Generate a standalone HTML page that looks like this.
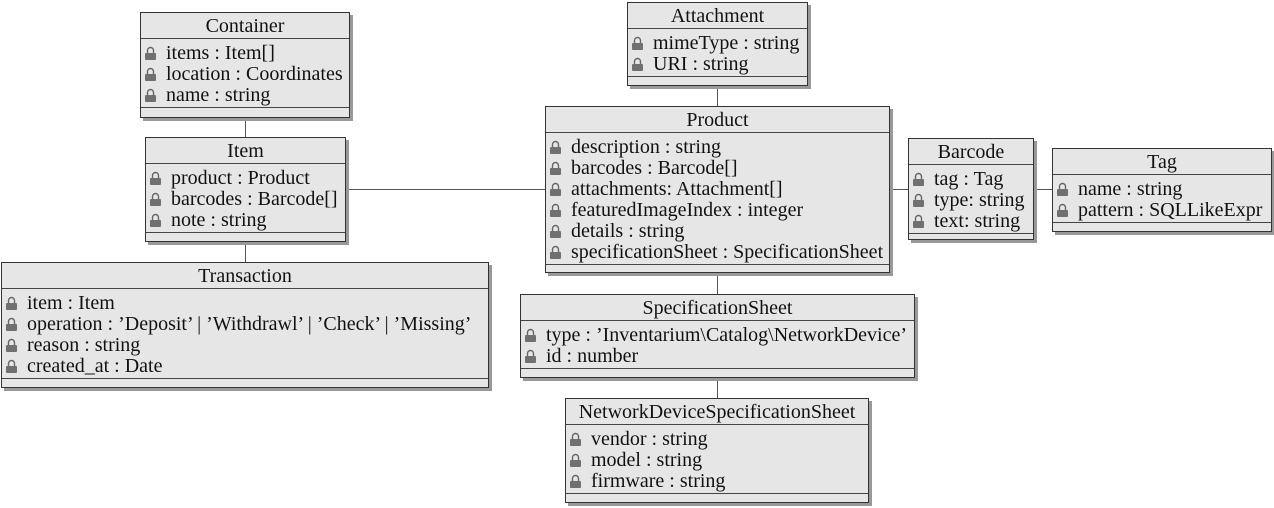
<!DOCTYPE html>
<html><head><meta charset="utf-8"><style>
body{margin:0;width:1274px;height:508px;background:#fff;position:relative;overflow:hidden;font-family:"Liberation Serif",serif;font-size:20px;color:#111}
.b{position:absolute;border:1px solid #333;background:#e6e6e6;box-shadow:3px 3px 0 #999;box-sizing:border-box}
.h{height:25px;line-height:26px;text-align:center;border-bottom:1px solid #444}
.a{padding:4px 0 1px}
.r{height:21px;line-height:21px;white-space:nowrap;padding-left:3px}
.r svg{vertical-align:-1px;margin-right:9px}
.f{border-top:1px solid #444}
.l{position:absolute;background:#555}
</style></head><body>
<svg width="0" height="0" style="position:absolute"><defs><g id="k"><path d="M3.5 7 V4.5 a3 3 0 0 1 6 0 V7" fill="none" stroke="#666" stroke-width="1.4"/><rect x="1" y="7" width="11" height="7" rx="1" fill="#707070"/></g></defs></svg>

<div class="l" style="left:245px;top:117px;width:1px;height:20px"></div>
<div class="l" style="left:245px;top:241px;width:1px;height:21px"></div>
<div class="l" style="left:345px;top:189px;width:200px;height:1px"></div>
<div class="l" style="left:717px;top:85px;width:1px;height:21px"></div>
<div class="l" style="left:889px;top:189px;width:19px;height:1px"></div>
<div class="l" style="left:1033px;top:189px;width:19px;height:1px"></div>
<div class="l" style="left:717px;top:272px;width:1px;height:22px"></div>
<div class="l" style="left:717px;top:377px;width:1px;height:21px"></div>

<div class="b" style="left:140px;top:12px;width:210px;height:106px"><div class="h">Container</div><div class="a">
<div class="r"><svg width="13" height="14"><use href="#k"/></svg>items : Item[]</div>
<div class="r"><svg width="13" height="14"><use href="#k"/></svg>location : Coordinates</div>
<div class="r"><svg width="13" height="14"><use href="#k"/></svg>name : string</div></div><div class="f"></div></div>

<div class="b" style="left:145px;top:137px;width:201px;height:105px"><div class="h">Item</div><div class="a">
<div class="r"><svg width="13" height="14"><use href="#k"/></svg>product : Product</div>
<div class="r"><svg width="13" height="14"><use href="#k"/></svg>barcodes : Barcode[]</div>
<div class="r"><svg width="13" height="14"><use href="#k"/></svg>note : string</div></div><div class="f"></div></div>

<div class="b" style="left:1px;top:262px;width:488px;height:126px"><div class="h">Transaction</div><div class="a">
<div class="r"><svg width="13" height="14"><use href="#k"/></svg>item : Item</div>
<div class="r"><svg width="13" height="14"><use href="#k"/></svg>operation : ’Deposit’ | ’Withdrawl’ | ’Check’ | ’Missing’</div>
<div class="r"><svg width="13" height="14"><use href="#k"/></svg>reason : string</div>
<div class="r"><svg width="13" height="14"><use href="#k"/></svg>created_at : Date</div></div><div class="f"></div></div>

<div class="b" style="left:627px;top:2px;width:181px;height:84px"><div class="h">Attachment</div><div class="a">
<div class="r"><svg width="13" height="14"><use href="#k"/></svg>mimeType : string</div>
<div class="r"><svg width="13" height="14"><use href="#k"/></svg>URI : string</div></div><div class="f"></div></div>

<div class="b" style="left:545px;top:106px;width:345px;height:167px"><div class="h">Product</div><div class="a">
<div class="r"><svg width="13" height="14"><use href="#k"/></svg>description : string</div>
<div class="r"><svg width="13" height="14"><use href="#k"/></svg>barcodes : Barcode[]</div>
<div class="r"><svg width="13" height="14"><use href="#k"/></svg>attachments: Attachment[]</div>
<div class="r"><svg width="13" height="14"><use href="#k"/></svg>featuredImageIndex : integer</div>
<div class="r"><svg width="13" height="14"><use href="#k"/></svg>details : string</div>
<div class="r"><svg width="13" height="14"><use href="#k"/></svg>specificationSheet : SpecificationSheet</div></div><div class="f"></div></div>

<div class="b" style="left:908px;top:138px;width:126px;height:102px"><div class="h">Barcode</div><div class="a">
<div class="r"><svg width="13" height="14"><use href="#k"/></svg>tag : Tag</div>
<div class="r"><svg width="13" height="14"><use href="#k"/></svg>type: string</div>
<div class="r"><svg width="13" height="14"><use href="#k"/></svg>text: string</div></div><div class="f"></div></div>

<div class="b" style="left:1052px;top:148px;width:220px;height:84px"><div class="h">Tag</div><div class="a">
<div class="r"><svg width="13" height="14"><use href="#k"/></svg>name : string</div>
<div class="r"><svg width="13" height="14"><use href="#k"/></svg>pattern : SQLLikeExpr</div></div><div class="f"></div></div>

<div class="b" style="left:520px;top:294px;width:395px;height:84px"><div class="h">SpecificationSheet</div><div class="a">
<div class="r"><svg width="13" height="14"><use href="#k"/></svg>type : ’Inventarium\Catalog\NetworkDevice’</div>
<div class="r"><svg width="13" height="14"><use href="#k"/></svg>id : number</div></div><div class="f"></div></div>

<div class="b" style="left:565px;top:398px;width:304px;height:105px"><div class="h">NetworkDeviceSpecificationSheet</div><div class="a">
<div class="r"><svg width="13" height="14"><use href="#k"/></svg>vendor : string</div>
<div class="r"><svg width="13" height="14"><use href="#k"/></svg>model : string</div>
<div class="r"><svg width="13" height="14"><use href="#k"/></svg>firmware : string</div></div><div class="f"></div></div>
</body></html>
